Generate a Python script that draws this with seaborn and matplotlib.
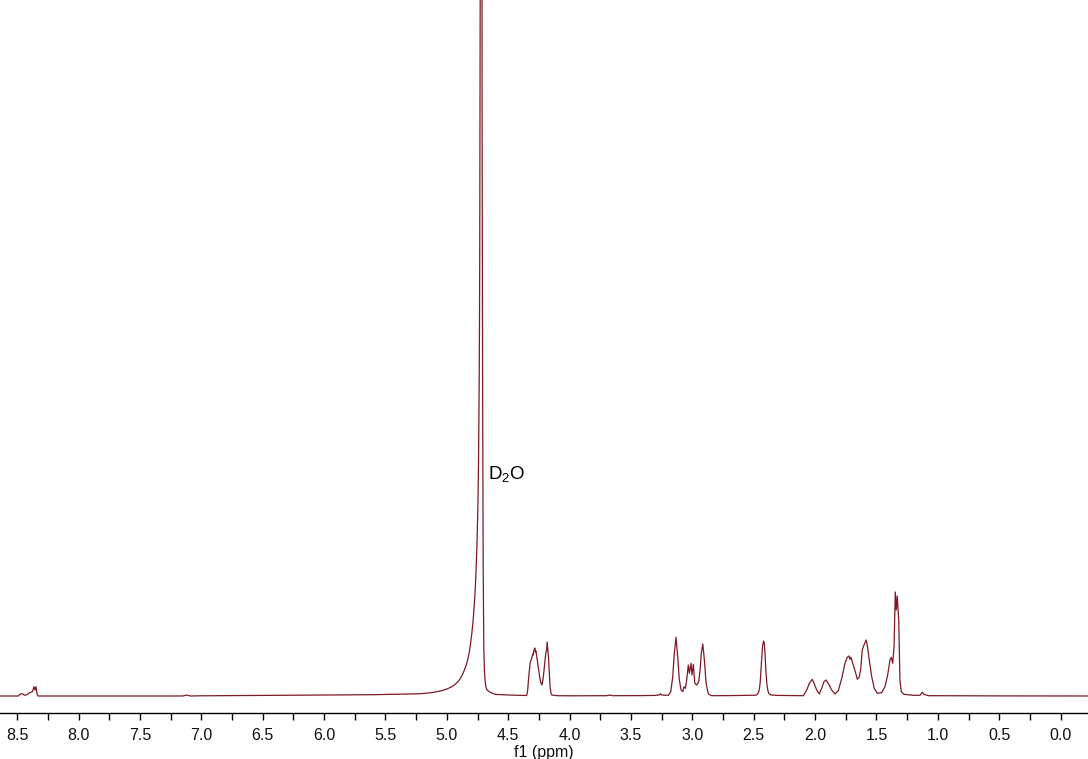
"""
1H NMR spectrum in D2O, redrawn from points read off the reference trace.
Intensity unit = pixels above the baseline of the original picture.
"""

import numpy as np
import pandas as pd
import matplotlib
matplotlib.use("Agg")
import matplotlib.pyplot as plt
from matplotlib.ticker import MultipleLocator, FormatStrFormatter
import seaborn as sns

LINE_COLOR = "#7d1a25"

# ── trace vertices, region by region (ppm, intensity) ─────────────────────────
aromatic_ppm = [8.64, 8.49, 8.475, 8.458, 8.44, 8.42, 8.40, 8.379, 8.371,
                8.363, 8.355, 8.347, 8.339, 8.33]
aromatic_int = [0.0, 0.0, 2.0, 2.3, 0.7, 1.3, 3.3, 4.0, 6.0,
                9.3, 6.0, 9.3, 2.7, 0.0]

mid_ppm = [7.15, 7.12, 7.09, 7.0, 6.5, 6.0, 5.6, 5.38, 5.317, 5.217,
           5.167, 5.117, 5.067, 5.037]
mid_int = [0.0, 1.0, 0.0, 0.2, 0.6, 0.9, 1.3, 1.8, 2.0, 2.3,
           2.8, 3.5, 4.6, 5.5]

# water signal: long low-field tail, steep high-field side
d2o_ppm = [4.997, 4.967, 4.937, 4.917, 4.897, 4.882, 4.867, 4.852, 4.837,
           4.827, 4.817, 4.807, 4.796, 4.787, 4.777, 4.769, 4.762, 4.755,
           4.747, 4.742, 4.737, 4.734, 4.732, 4.729, 4.727, 4.718,
           4.713, 4.709, 4.704, 4.699, 4.694, 4.689, 4.683, 4.675, 4.667,
           4.661, 4.648, 4.634, 4.60, 4.50, 4.38]
d2o_int = [7.1, 8.8, 11.2, 13.4, 16.3, 19.1, 23.0, 27.5, 33.0,
           38.0, 44.0, 52.0, 63.0, 74.0, 90.0, 106.0, 126.0, 149.0,
           190.0, 232.0, 305.0, 372.0, 445.0, 622.0, 837.0, 6000.0,
           600.0, 330.0, 130.0, 50.0, 26.0, 16.0, 10.0, 6.5, 5.5,
           4.8, 3.8, 3.0, 1.6, 1.0, 0.6]

h4_ppm = [4.35, 4.342, 4.335, 4.322, 4.308, 4.301, 4.296, 4.29, 4.283,
          4.278, 4.274, 4.267, 4.256, 4.246, 4.236, 4.226, 4.217, 4.208,
          4.20, 4.194, 4.188, 4.183, 4.178, 4.172, 4.165, 4.159, 4.152,
          4.145, 4.10]
h4_int = [0.5, 5.0, 16.0, 33.0, 38.0, 42.0, 41.0, 46.0, 48.0,
          44.0, 45.0, 39.0, 30.0, 21.0, 14.0, 11.0, 16.0, 26.0,
          36.0, 43.0, 45.0, 54.0, 47.0, 39.0, 22.0, 9.0, 3.0,
          1.0, 0.3]

h3_ppm = [4.0, 3.70, 3.67, 3.65, 3.40, 3.30, 3.27, 3.26, 3.25, 3.20,
          3.195, 3.176, 3.16, 3.147, 3.133, 3.119, 3.106, 3.092, 3.078,
          3.068, 3.057, 3.046, 3.033, 3.024, 3.011, 3.003, 2.992, 2.98,
          2.964, 2.948, 2.937, 2.927, 2.915, 2.902, 2.888, 2.87, 2.842]
h3_int = [0.2, 0.3, 1.0, 0.3, 0.4, 0.6, 1.0, 2.2, 1.0, 0.8,
          0.7, 4.3, 19.0, 42.7, 58.7, 39.0, 16.0, 6.0, 4.3,
          9.3, 7.7, 16.0, 31.0, 22.7, 32.7, 21.0, 31.7, 12.7,
          11.0, 14.3, 26.0, 42.7, 52.0, 36.0, 12.7, 2.0, 0.3]

h24_ppm = [2.70, 2.48, 2.465, 2.455, 2.447, 2.438, 2.428, 2.42, 2.414,
           2.408, 2.401, 2.393, 2.385, 2.377, 2.36, 2.30, 2.20, 2.10]
h24_int = [0.4, 0.8, 2.5, 6.0, 14.0, 32.0, 50.0, 55.0, 53.0,
           42.0, 25.0, 12.0, 5.5, 2.5, 1.0, 0.6, 0.5, 0.5]

h16_ppm = [2.096, 2.068, 2.047, 2.033, 2.023, 2.009, 1.987, 1.966, 1.946,
           1.928, 1.911, 1.893, 1.865, 1.838, 1.811, 1.783, 1.757, 1.738,
           1.724, 1.716, 1.708, 1.694, 1.683, 1.669, 1.656, 1.642, 1.629,
           1.616, 1.607, 1.596, 1.585, 1.575, 1.559, 1.539, 1.518, 1.493,
           1.458, 1.431, 1.409, 1.39, 1.379, 1.368, 1.357, 1.347, 1.339,
           1.331, 1.319, 1.309, 1.298, 1.276, 1.20, 1.146, 1.127, 1.113,
           1.078, 1.0, 0.5, -0.223]
h16_int = [0.3, 6.0, 12.7, 15.0, 16.7, 12.7, 6.0, 2.0, 7.7,
           14.3, 16.0, 12.7, 6.0, 2.0, 5.3, 17.7, 32.7, 38.7,
           40.0, 36.7, 38.7, 32.7, 28.7, 22.7, 16.7, 18.7, 26.0,
           46.0, 49.3, 52.7, 56.0, 51.0, 36.0, 19.3, 7.7, 2.7,
           3.3, 9.3, 21.0, 36.0, 38.7, 32.7, 49.0, 104.0, 86.0,
           100.0, 76.0, 16.0, 4.3, 1.7, 0.7, 0.7, 3.7, 1.7,
           0.3, 0.3, 0.1, 0.0]

label_text = "D$_\\mathregular{2}$O"
label_ppm, label_height = 4.664, 216

x_major = 0.5
x_minor = 0.25
x_lim = (8.64, -0.223)
y_lim = (-17, 696)


def main():
    sns.set_theme(style="ticks")
    plt.rcParams["font.family"] = ["Liberation Sans", "DejaVu Sans"]
    plt.rcParams["mathtext.fontset"] = "custom"
    plt.rcParams["mathtext.rm"] = "Liberation Sans"

    df = pd.DataFrame({
        "ppm": np.concatenate([aromatic_ppm, mid_ppm, d2o_ppm, h4_ppm,
                               h3_ppm, h24_ppm, h16_ppm]),
        "intensity": np.concatenate([aromatic_int, mid_int, d2o_int, h4_int,
                                     h3_int, h24_int, h16_int]),
    })

    fig = plt.figure(figsize=(10.88, 7.59), dpi=100)
    ax = fig.add_axes([0.0, 46 / 759, 1.0, 1 - 46 / 759])
    sns.lineplot(data=df, x="ppm", y="intensity", ax=ax, color=LINE_COLOR,
                 linewidth=0.9, estimator=None, sort=False)

    ax.set_xlim(*x_lim)
    ax.set_ylim(*y_lim)
    ax.xaxis.set_major_locator(MultipleLocator(x_major))
    ax.xaxis.set_minor_locator(MultipleLocator(x_minor))
    ax.xaxis.set_major_formatter(FormatStrFormatter("%.1f"))
    ax.tick_params(axis="x", which="both", direction="out", length=5,
                   width=1, color="black", labelsize=11.5, pad=6,
                   labelcolor="#111111")
    ax.set_yticks([])
    ax.set_ylabel("")
    ax.set_xlabel("f1 (ppm)", fontsize=11.5, labelpad=1.0, color="#111111")
    for side in ("left", "right", "top"):
        ax.spines[side].set_visible(False)
    ax.spines["bottom"].set_color("black")
    ax.spines["bottom"].set_linewidth(1.0)
    ax.patch.set_alpha(0)

    ax.text(label_ppm, label_height, label_text, fontsize=13.5,
            ha="left", va="baseline", color="black")

    fig.savefig("out.png", dpi=100)
    plt.close(fig)


if __name__ == "__main__":
    main()
